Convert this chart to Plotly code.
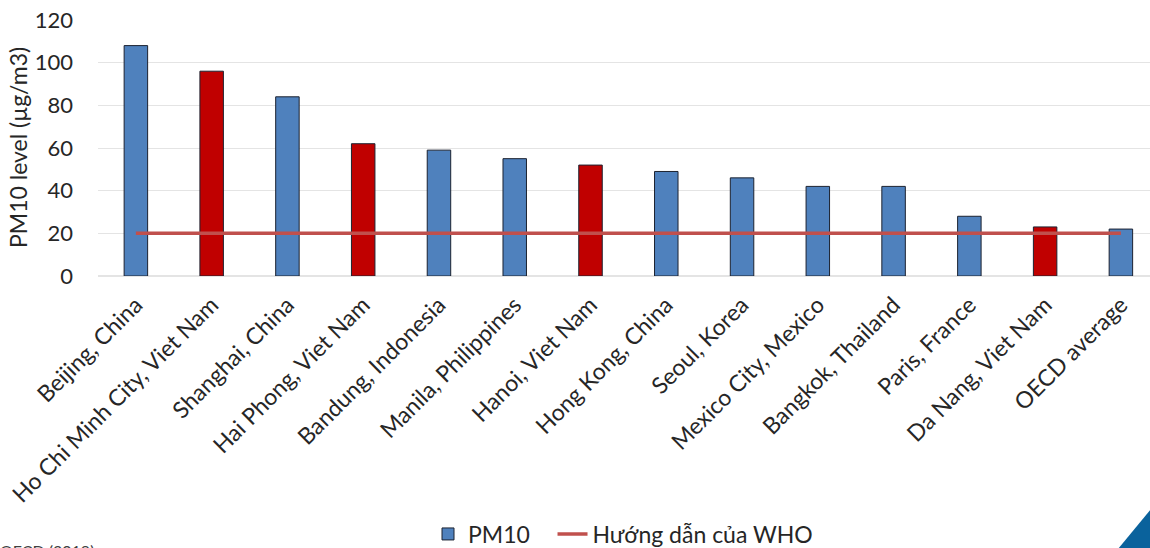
import plotly.graph_objects as go

# PM10 annual mean concentration by city
cities = [
    "Beijing, China", "Ho Chi Minh City, Viet Nam", "Shanghai, China",
    "Hai Phong, Viet Nam", "Bandung, Indonesia", "Manila, Philippines",
    "Hanoi, Viet Nam", "Hong Kong, China", "Seoul, Korea",
    "Mexico City, Mexico", "Bangkok, Thailand", "Paris, France",
    "Da Nang, Viet Nam", "OECD average",
]
pm10 = [108, 96, 84, 62, 59, 55, 52, 49, 46, 42, 42, 28, 23, 22]
who_guideline = 20
y_ticks = [0, 20, 40, 60, 80, 100, 120]

BLUE = "#4f81bd"
RED = "#c00000"
LINE_RED = "#c0504d"
FONT = "Lato"
TEXT = "#262626"

bar_colors = [RED if c.endswith("Viet Nam") else BLUE for c in cities]

W, H = 1150, 548
ML, MT, MB = 98, 20, 272
plot_w = W - ML
plot_h = H - MT - MB

fig = go.Figure()
# trailing non-breaking spaces widen the gap between the two legend entries
fig.add_trace(go.Bar(
    x=cities, y=pm10, name="PM10\u00a0\u00a0\u00a0",
    marker=dict(color=bar_colors, line=dict(color="#1c2230", width=1)),
    width=0.31,
))
fig.add_trace(go.Scatter(
    x=cities, y=[who_guideline] * len(cities), name="Hướng dẫn của WHO",
    mode="lines", line=dict(color=LINE_RED, width=3.5),
))


def px_x(px):
    return (px - ML) / plot_w


def px_y(py):
    return (H - MB - py) / plot_h


# band width is ~75.8 px, so the right edge of the plot runs past the last category
n_vis = plot_w / 75.77

fig.update_layout(
    width=W, height=H,
    margin=dict(l=ML, r=0, t=MT, b=MB, autoexpand=False),
    paper_bgcolor="white", plot_bgcolor="white",
    font=dict(family=FONT, color=TEXT, size=20),
    bargap=0.6,
    showlegend=True,
    legend=dict(
        orientation="h", x=px_x(428), xanchor="left",
        y=px_y(534), yanchor="middle",
        font=dict(size=23, family=FONT, color=TEXT),
        itemwidth=30, tracegroupgap=0,
        bgcolor="rgba(0,0,0,0)",
    ),
    xaxis=dict(
        range=[-0.5, n_vis - 0.5], tickangle=-45,
        tickfont=dict(size=23, family=FONT, color=TEXT),
        showgrid=False, showline=False, zeroline=False,
        ticks="", automargin=False, ticklabelstandoff=10,
    ),
    yaxis=dict(
        range=[0, 120], tickvals=y_ticks,
        tickfont=dict(size=22, family=FONT, color=TEXT),
        showgrid=True, gridcolor="#e4e4e4", gridwidth=1,
        zeroline=True, zerolinecolor="#e4e4e4", zerolinewidth=1.5,
        showline=False, ticks="", automargin=False, ticklabelstandoff=24,
    ),
    annotations=[
        dict(text="PM10 level (µg/m3)", textangle=-90,
             xref="paper", yref="paper", x=px_x(18), y=0.5,
             xanchor="center", yanchor="middle", showarrow=False,
             font=dict(size=23, family=FONT, color=TEXT)),
        dict(text="OECD (2019)", xref="paper", yref="paper",
             x=px_x(-2), y=px_y(539), xanchor="left", yanchor="top",
             showarrow=False, font=dict(size=16, family=FONT, color="#404040")),
    ],
    shapes=[
        dict(type="path", xref="paper", yref="paper",
             path=f"M {px_x(1118)} {px_y(549)} L {px_x(1151)} {px_y(509)} "
                  f"L {px_x(1151)} {px_y(549)} Z",
             fillcolor="#0a629c", line=dict(width=0), layer="above"),
    ],
)

fig.write_html("out.html")
